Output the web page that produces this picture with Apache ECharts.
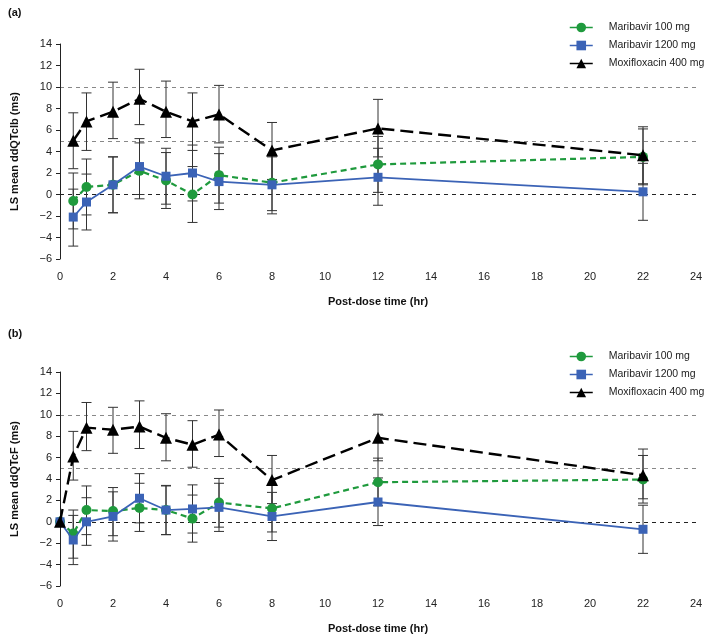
<!DOCTYPE html>
<html><head><meta charset="utf-8">
<script src="https://cdn.jsdelivr.net/npm/echarts@6/dist/echarts.min.js"></script>
<style>html,body{margin:0;padding:0;background:#fff}#c{width:709px;height:636px}</style>
</head><body><div id="c"></div>
<script>
// ---- Data ----
const timesA = [0.5, 1, 2, 3, 4, 5, 6, 8, 12, 22];
const mari100A = [-0.6, 0.7, 0.9, 2.2, 1.3, 0.0, 1.8, 1.1, 2.8, 3.5];
const mari100A_lo = [-3.2, -1.9, -1.7, -0.4, -1.3, -2.6, -0.8, -1.5, 0.2, 0.9];
const mari100A_hi = [2.0, 3.3, 3.5, 4.8, 3.9, 2.6, 4.4, 3.7, 5.4, 6.1];
const mari1200A = [-2.1, -0.7, 0.9, 2.6, 1.7, 2.0, 1.2, 0.9, 1.6, 0.25];
const mari1200A_lo = [-4.8, -3.3, -1.7, 0.0, -0.9, -0.6, -1.4, -1.8, -1.0, -2.4];
const mari1200A_hi = [0.5, 1.9, 3.5, 5.2, 4.3, 4.6, 3.8, 3.5, 4.3, 2.9];
const moxiA = [5.0, 6.8, 7.7, 8.9, 7.7, 6.8, 7.45, 4.1, 6.15, 3.65];
const moxiA_lo = [2.4, 4.1, 5.2, 6.5, 5.3, 4.1, 4.8, 1.4, 3.5, 1.0];
const moxiA_hi = [7.6, 9.45, 10.45, 11.65, 10.55, 9.45, 10.15, 6.7, 8.85, 6.3];

const timesB = [0, 0.5, 1, 2, 3, 4, 5, 6, 8, 12, 22];
const mari100B = [0, -1.1, 1.1, 1.0, 1.3, 1.1, 0.3, 1.8, 1.25, 3.7, 3.95];
const mari100B_lo = [null, -3.4, -1.2, -1.3, -0.9, -1.2, -1.9, -0.5, -0.95, 1.5, 1.75];
const mari100B_hi = [null, 1.1, 3.35, 3.2, 3.6, 3.4, 2.5, 4.05, 3.5, 5.95, 6.2];
const mari1200B = [0, -1.7, 0.0, 0.5, 2.2, 1.1, 1.2, 1.35, 0.5, 1.85, -0.7];
const mari1200B_lo = [null, -4.0, -2.2, -1.8, -0.1, -1.2, -1.05, -0.9, -1.75, -0.35, -2.95];
const mari1200B_hi = [null, 0.6, 2.25, 2.8, 4.5, 3.35, 3.45, 3.6, 2.75, 4.1, 1.55];
const moxiB = [0, 6.1, 8.8, 8.6, 8.9, 7.85, 7.2, 8.15, 3.9, 7.85, 4.35];
const moxiB_lo = [null, 3.9, 6.65, 6.4, 6.85, 5.7, 5.1, 6.1, 1.7, 5.7, 2.15];
const moxiB_hi = [null, 8.45, 11.15, 10.7, 11.3, 10.1, 9.45, 10.45, 6.2, 10.05, 6.8];

const refLines = [10, 5];
const seriesNames = ['Maribavir 100 mg', 'Maribavir 1200 mg', 'Moxifloxacin 400 mg'];
const yTitles = ['LS mean ddQTclb (ms)', 'LS mean ddQTcF (ms)'];
const xTitle = 'Post-dose time (hr)';
const panelLabels = ['(a)', '(b)'];

// ---- Styles ----
const FONT = 'Liberation Sans, Arial, sans-serif';
const colors = ['#1f9a3d', '#3b63b6', '#000000'];
const symbols = ['circle', 'rect', 'triangle'];
const symSizes = [10, 9, 12];
const lineTypes = [[6, 4], 'solid', [13, 6]];
const lineWidths = [2.2, 1.8, 2.4];

const chart = echarts.init(document.getElementById('c'), null, {renderer: 'canvas'});

function pairs(xs, ys) { return xs.map((x, i) => [x, ys[i]]); }
function errData(xs, lo, hi) {
  const out = [];
  xs.forEach((x, i) => { if (lo[i] != null) out.push([x, lo[i], hi[i]]); });
  return out;
}
const minusFmt = v => String(v).replace('-', '\u2212');

const grids = [
  {left: 60, right: 13, top: 44, height: 215},
  {left: 60, right: 13, top: 372, height: 214}
];

function xAxis(i) {
  return {
    type: 'value', gridIndex: i, min: 0, max: 24, interval: 2,
    axisLine: {show: false}, axisTick: {show: false}, splitLine: {show: false},
    axisLabel: {fontFamily: FONT, fontSize: 11, color: '#222', margin: 12},
    name: xTitle, nameLocation: 'middle', nameGap: 37,
    nameTextStyle: {fontFamily: FONT, fontSize: 11, fontWeight: 'bold', color: '#111'}
  };
}
function yAxis(i) {
  return {
    type: 'value', gridIndex: i, min: -6, max: 14, interval: 2,
    axisLine: {show: true, lineStyle: {color: '#222', width: 1}},
    axisTick: {show: true, length: 4, lineStyle: {color: '#222'}},
    splitLine: {show: false},
    axisLabel: {fontFamily: FONT, fontSize: 11, color: '#222', margin: 8, formatter: minusFmt},
    name: yTitles[i], nameLocation: 'middle', nameGap: 40, nameRotate: 90,
    nameTextStyle: {fontFamily: FONT, fontSize: 11, fontWeight: 'bold', color: '#111'}
  };
}

function errSeries(i, data) {
  return {
    type: 'custom', xAxisIndex: i, yAxisIndex: i, z: 1, silent: true,
    data: data,
    renderItem: function (params, api) {
      const x = api.value(0);
      const lo = api.coord([x, api.value(1)]);
      const hi = api.coord([x, api.value(2)]);
      const w = 5;
      const st = {stroke: '#333', lineWidth: 1};
      return {type: 'group', children: [
        {type: 'line', shape: {x1: lo[0], y1: lo[1], x2: hi[0], y2: hi[1]}, style: st},
        {type: 'line', shape: {x1: lo[0] - w, y1: lo[1], x2: lo[0] + w, y2: lo[1]}, style: st},
        {type: 'line', shape: {x1: hi[0] - w, y1: hi[1], x2: hi[0] + w, y2: hi[1]}, style: st}
      ]};
    }
  };
}

function lineSeries(i, k, xs, ys, withRef) {
  const s = {
    name: seriesNames[k], type: 'line', xAxisIndex: i, yAxisIndex: i, z: 3 + k,
    data: pairs(xs, ys), symbol: symbols[k], symbolSize: symSizes[k],
    itemStyle: {color: colors[k]},
    lineStyle: {color: colors[k], width: lineWidths[k], type: lineTypes[k]},
    emphasis: {disabled: true}, animation: false
  };
  if (withRef) {
    s.markLine = {
      silent: true, symbol: 'none', animation: false, z: 0,
      label: {show: false},
      data: refLines.map(v => ({yAxis: v, lineStyle: {color: '#888', width: 1, type: [4, 4]}}))
        .concat([{yAxis: 0, lineStyle: {color: '#222', width: 1, type: [4, 4]}}])
    };
  }
  return s;
}

const series = [];
series.push(errSeries(0, errData(timesA, mari100A_lo, mari100A_hi)));
series.push(errSeries(0, errData(timesA, mari1200A_lo, mari1200A_hi)));
series.push(errSeries(0, errData(timesA, moxiA_lo, moxiA_hi)));
series.push(lineSeries(0, 1, timesA, mari1200A, true));
series.push(lineSeries(0, 0, timesA, mari100A, false));
series.push(lineSeries(0, 2, timesA, moxiA, false));
series.push(errSeries(1, errData(timesB, mari100B_lo, mari100B_hi)));
series.push(errSeries(1, errData(timesB, mari1200B_lo, mari1200B_hi)));
series.push(errSeries(1, errData(timesB, moxiB_lo, moxiB_hi)));
series.push(lineSeries(1, 1, timesB, mari1200B, true));
series.push(lineSeries(1, 0, timesB, mari100B, false));
series.push(lineSeries(1, 2, timesB, moxiB, false));

function legend(top) {
  return {
    orient: 'vertical', left: 569, top: top, padding: 0,
    itemWidth: 23, itemHeight: 12, itemGap: 7,
    selectedMode: false,
    data: seriesNames.slice(),
    lineStyle: {type: 'solid', width: 1.5},
    textStyle: {fontFamily: FONT, fontSize: 10.5, color: '#222', padding: [0, 0, 0, 11]}
  };
}

chart.setOption({
  animation: false,
  textStyle: {fontFamily: FONT},
  title: [
    {text: panelLabels[0], left: 3, top: 2, textStyle: {fontFamily: FONT, fontSize: 11, fontWeight: 'bold', color: '#111'}},
    {text: panelLabels[1], left: 3, top: 323, textStyle: {fontFamily: FONT, fontSize: 11, fontWeight: 'bold', color: '#111'}}
  ],
  legend: [legend(22), legend(351)],
  grid: grids,
  xAxis: [xAxis(0), xAxis(1)],
  yAxis: [yAxis(0), yAxis(1)],
  series: series
});
</script>
</body></html>
